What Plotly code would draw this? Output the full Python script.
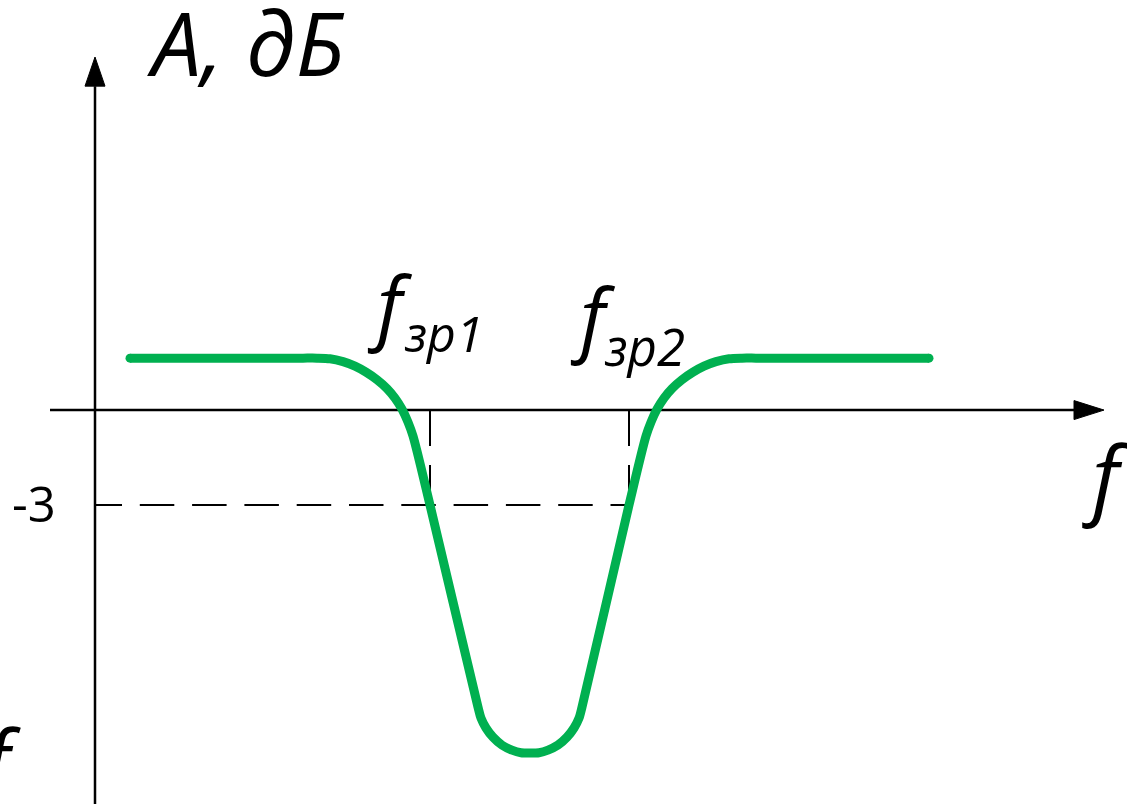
import plotly.graph_objects as go

# ---- data (frequency in arbitrary units, amplitude in dB) ----
freq = [35, 190, 208, 222, 235, 248, 260, 271, 282, 292, 300, 307, 313, 318, 335,
        383, 386, 391, 398, 407, 417, 426, 435, 444, 453, 463, 472, 479, 484, 487,
        534, 551, 556, 562, 569, 577, 587, 598, 609, 621, 634, 647, 661, 680, 834]
amp = [1.64, 1.64, 1.64, 1.64, 1.62, 1.53, 1.39, 1.20, 0.96, 0.68, 0.38, 0.03, -0.38, -0.82, -3.0,
       -9.38, -9.73, -10.04, -10.33, -10.58, -10.74, -10.82, -10.83, -10.82, -10.74,
       -10.58, -10.33, -10.04, -9.73, -9.38,
       -3.0, -0.82, -0.38, 0.03, 0.38, 0.68, 0.96, 1.20, 1.39, 1.53, 1.62, 1.64, 1.64, 1.64, 1.64]
f_cut = [335, 534]          # f_зр1, f_зр2
level_3db = -3
cut_labels = ["зр1", "зр2"]

# ---- axis frame ----
X_MIN, X_MAX = -95, 1032
Y_MIN, Y_MAX = -12.44, 12.95
GREEN = "#00B050"
FONT = "Open Sans"

fig = go.Figure()

# dashed guides
dash_h = "27px," + ",".join(["17.8px,34.5px"] * 11) + ",17.8px"
fig.add_trace(go.Scatter(x=[0, f_cut[1]], y=[level_3db, level_3db], mode="lines",
                         line=dict(color="black", width=2, dash=dash_h),
                         hoverinfo="skip"))
for fc in f_cut:
    fig.add_trace(go.Scatter(x=[fc, fc], y=[0, level_3db], mode="lines",
                             line=dict(color="black", width=2, dash="36px,19px,40px,19px"),
                             hoverinfo="skip"))

# axes lines
fig.add_trace(go.Scatter(x=[0, 0], y=[Y_MIN, 10.23], mode="lines",
                         line=dict(color="black", width=2.5), hoverinfo="skip"))
fig.add_trace(go.Scatter(x=[-45, 979], y=[0, 0], mode="lines",
                         line=dict(color="black", width=2.5), hoverinfo="skip"))
# arrow heads
fig.add_trace(go.Scatter(x=[-10, 10, 0, -10], y=[10.23, 10.23, 11.15, 10.23],
                         mode="lines", fill="toself", fillcolor="black",
                         line=dict(color="black", width=1), hoverinfo="skip"))
fig.add_trace(go.Scatter(x=[979, 979, 1009, 979], y=[0.30, -0.30, 0, 0.30],
                         mode="lines", fill="toself", fillcolor="black",
                         line=dict(color="black", width=1), hoverinfo="skip"))

# response curve
fig.add_trace(go.Scatter(x=freq, y=amp, mode="lines",
                         line=dict(color=GREEN, width=9, shape="spline", smoothing=0.8),
                         hoverinfo="skip"))
fig.add_trace(go.Scatter(x=[freq[0], freq[-1]], y=[amp[0], amp[-1]], mode="markers",
                         marker=dict(color=GREEN, size=9), hoverinfo="skip"))

ann = []
def txt(x, y, s, size, xa="left", ya="bottom", italic=True, xref="x", yref="y"):
    ann.append(dict(x=x, y=y, xref=xref, yref=yref, text=s, showarrow=False,
                    xanchor=xa, yanchor=ya,
                    font=dict(family=FONT, size=size, color="black",
                              style="italic" if italic else "normal")))

txt(50, 9.66, "A, дБ", 88)
txt(985, -3.95, "f", 86)
txt(270, 1.58, "f", 80)
txt(307, 1.30, cut_labels[0], 50)
txt(473, 1.20, "f", 80)
txt(507, 0.86, cut_labels[1], 51)
txt(-85, -4.04, "-3", 49, italic=False)
txt(-29 / 1127, -9.10, "f", 86, ya="top", xref="paper")

fig.update_layout(
    width=1127, height=804, margin=dict(l=0, r=0, t=0, b=0),
    paper_bgcolor="white", plot_bgcolor="white", showlegend=False,
    xaxis=dict(range=[X_MIN, X_MAX], visible=False, fixedrange=True),
    yaxis=dict(range=[Y_MIN, Y_MAX], visible=False, fixedrange=True),
    annotations=ann,
)
fig.write_html("out.html", config={"displayModeBar": False},
               post_script="document.body.style.margin='0';document.body.style.overflow='hidden';")
